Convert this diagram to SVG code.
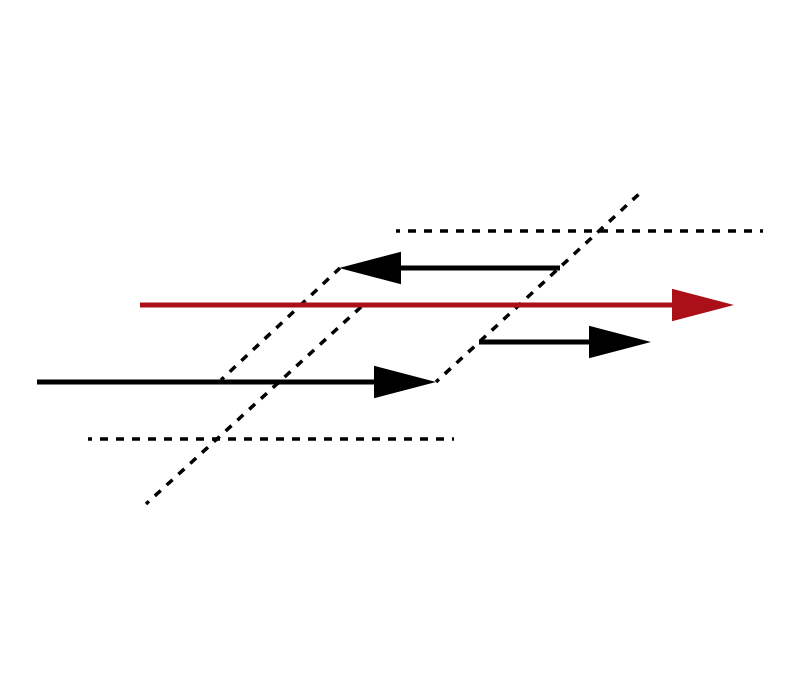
<svg xmlns="http://www.w3.org/2000/svg" width="800" height="700" viewBox="0 0 800 700">
  <style>
    .dash { stroke: #000; stroke-width: 3.5; stroke-dasharray: 8 8; stroke-dashoffset: 4; fill: none; }
    .arr { stroke: #000; stroke-width: 5; fill: none; }
    .red { stroke: #ab1018; stroke-width: 5; fill: none; }
  </style>
  <defs>
    <marker id="hb" markerUnits="userSpaceOnUse" markerWidth="62" markerHeight="34" viewBox="0 0 61 32" refX="0" refY="16" orient="auto">
      <path d="M0,0 L61,16 L0,32 z" fill="#000"/>
    </marker>
    <marker id="hr" markerUnits="userSpaceOnUse" markerWidth="62" markerHeight="34" viewBox="0 0 61 32" refX="0" refY="16" orient="auto">
      <path d="M0,0 L61,16 L0,32 z" fill="#ab1018"/>
    </marker>
  </defs>
  <rect width="800" height="700" fill="#fff"/>
  <g id="guides">
    <line class="dash" x1="396" y1="231" x2="763" y2="231"/>
    <line class="dash" x1="88" y1="439" x2="454" y2="439"/>
    <line class="dash" x1="146" y1="504" x2="362" y2="306"/>
    <line class="dash" x1="221" y1="380" x2="340" y2="268"/>
    <line class="dash" x1="436" y1="382" x2="640" y2="193"/>
  </g>
  <g id="connectors">
    <line class="red" x1="140" y1="305" x2="672" y2="305" marker-end="url(#hr)"/>
    <line class="arr" x1="560" y1="268" x2="401" y2="268" marker-end="url(#hb)"/>
    <line class="arr" x1="37" y1="382" x2="374" y2="382" marker-end="url(#hb)"/>
    <line class="arr" x1="479" y1="342" x2="589" y2="342" marker-end="url(#hb)"/>
  </g>
</svg>
